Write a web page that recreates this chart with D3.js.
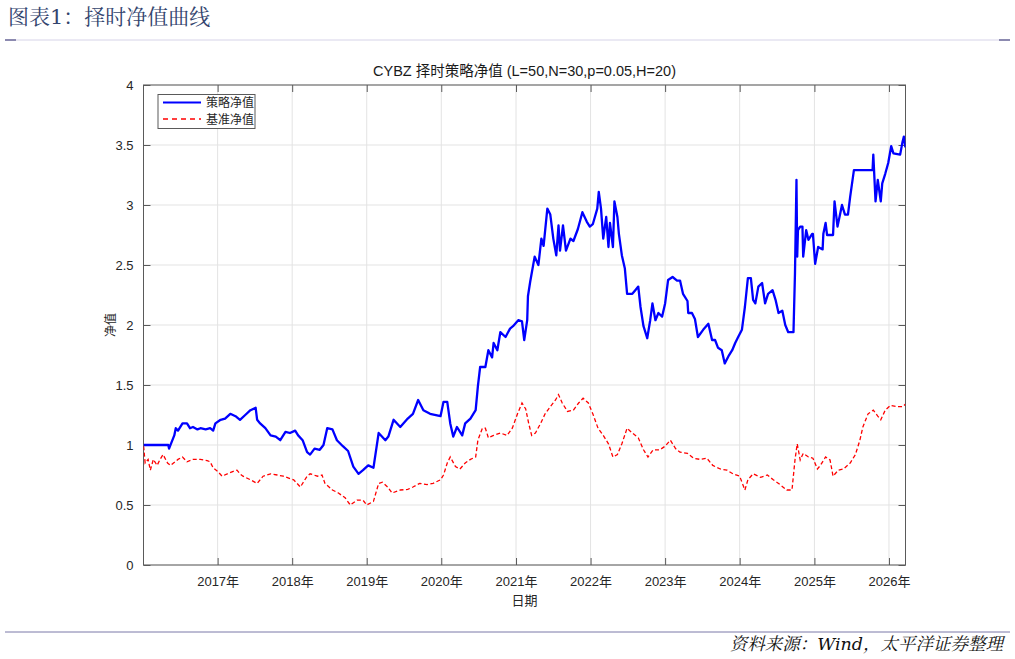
<!DOCTYPE html>
<html>
<head>
<meta charset="utf-8">
<script src="https://cdn.jsdelivr.net/npm/d3@7"></script>
<style>
  body { margin: 0; background: #fff; }
  svg { display: block; }
  .tick text { font-family: "Liberation Sans", Arial, "Noto Sans CJK SC", sans-serif; font-size: 13px; fill: #262626; }
</style>
</head>
<body>
<svg id="chart"></svg>
<script>
// strategy NAV (decimal year, value)
var stratT = [2016.01,2016.34,2016.35,2016.42,2016.44,2016.47,2016.53,2016.59,2016.63,2016.67,
  2016.73,2016.77,2016.84,2016.90,2016.94,2016.97,2017.04,2017.10,2017.17,2017.24,
  2017.30,2017.37,2017.44,2017.51,2017.53,2017.57,2017.64,2017.71,2017.78,2017.84,
  2017.91,2017.97,2018.04,2018.08,2018.14,2018.20,2018.24,2018.30,2018.37,2018.42,
  2018.47,2018.54,2018.60,2018.68,2018.75,2018.82,2018.89,2018.95,
  2019.02,2019.09,2019.16,2019.25,2019.29,2019.36,2019.45,2019.55,2019.62,2019.69,2019.76,2019.85,2019.99,
  2020.03,2020.08,2020.12,2020.16,2020.21,2020.28,2020.32,2020.39,2020.46,2020.49,2020.52,2020.59,2020.63,2020.68,2020.70,2020.75,2020.79,2020.86,2020.92,2020.96,
  2021.03,2021.08,2021.11,2021.15,2021.16,
  2021.19,2021.25,2021.30,2021.34,2021.37,2021.42,2021.46,2021.50,2021.54,2021.57,2021.59,
  2021.63,2021.67,2021.73,2021.77,2021.83,2021.89,2021.95,2021.99,2022.03,2022.09,
  2022.11,2022.14,2022.17,2022.21,2022.24,2022.26,2022.30,2022.32,2022.36,2022.38,2022.42,2022.46,
  2022.49,2022.56,2022.60,2022.64,2022.67,2022.71,2022.76,2022.80,2022.83,2022.87,2022.91,2022.96,
  2023.00,2023.04,2023.10,2023.16,2023.20,2023.24,2023.30,2023.31,2023.36,2023.40,2023.44,2023.51,2023.58,2023.63,2023.67,2023.71,2023.76,2023.80,2023.85,2023.90,2023.94,2023.98,
  2024.03,2024.07,2024.11,2024.15,2024.18,2024.21,2024.25,2024.30,2024.34,2024.38,2024.44,2024.48,2024.52,2024.57,2024.61,2024.65,2024.72,2024.74,2024.76,2024.77,2024.78,2024.81,2024.84,2024.85,2024.89,2024.92,2024.97,2024.98,
  2025.01,2025.05,2025.11,2025.12,2025.15,2025.17,2025.25,2025.27,2025.31,2025.37,2025.41,2025.45,2025.48,2025.53,2025.78,2025.79,2025.82,2025.85,2025.89,2025.91,2025.95,2025.99,
  2026.03,2026.06,2026.15,2026.18,2026.20,2026.22];
var stratV = [1.00,1.00,0.97,1.08,1.14,1.12,1.18,1.18,1.14,1.15,
  1.13,1.14,1.13,1.14,1.12,1.18,1.21,1.22,1.26,1.24,
  1.21,1.25,1.29,1.31,1.21,1.18,1.14,1.08,1.07,1.04,
  1.11,1.10,1.12,1.08,1.04,0.94,0.92,0.97,0.96,1.00,
  1.14,1.13,1.04,0.99,0.95,0.82,0.76,0.79,
  0.83,0.81,1.10,1.04,1.07,1.21,1.15,1.22,1.26,1.375,1.29,1.26,1.24,
  1.36,1.36,1.18,1.07,1.15,1.08,1.18,1.22,1.29,1.49,1.65,1.65,1.79,1.73,1.85,1.79,1.94,1.90,1.97,1.99,
  2.04,2.03,1.875,2.04,2.24,
  2.36,2.57,2.50,2.72,2.66,2.97,2.92,2.72,2.58,2.83,2.62,
  2.83,2.62,2.72,2.70,2.80,2.94,2.86,2.82,2.84,2.97,
  3.11,2.97,2.72,2.90,2.65,2.85,2.65,3.03,2.90,2.76,2.58,2.47,
  2.26,2.26,2.29,2.32,2.15,1.99,1.89,2.04,2.18,2.04,2.10,2.07,
  2.18,2.375,2.40,2.37,2.37,2.26,2.20,2.10,2.10,2.05,1.90,1.96,2.01,1.875,1.875,1.81,1.79,1.68,1.74,1.79,1.85,1.90,
  1.96,2.15,2.39,2.39,2.21,2.18,2.32,2.35,2.18,2.26,2.29,2.21,2.10,2.12,2.00,1.94,1.94,2.43,3.21,2.57,2.79,2.82,2.82,2.57,2.79,2.71,2.76,2.76,
  2.51,2.65,2.63,2.76,2.85,2.75,2.75,3.03,2.82,3.00,2.92,2.92,3.07,3.29,3.29,3.42,3.03,3.21,3.03,3.18,3.26,3.35,
  3.49,3.43,3.42,3.52,3.57,3.48];

// benchmark NAV
var benchT = [2016.01,2016.03,2016.07,2016.10,2016.14,2016.19,2016.23,2016.27,2016.33,2016.37,2016.41,2016.47,2016.53,2016.59,2016.67,2016.77,2016.86,2016.90,2016.94,
  2017.00,2017.06,2017.13,2017.21,2017.26,2017.30,2017.34,2017.44,2017.53,2017.61,2017.71,2017.80,2017.88,
  2018.02,2018.11,2018.20,2018.24,2018.34,2018.40,2018.44,2018.54,2018.62,2018.71,2018.78,2018.87,2018.95,
  2019.00,2019.09,2019.16,2019.21,2019.28,2019.34,2019.45,2019.55,2019.62,2019.71,2019.81,2019.89,2019.99,
  2020.03,2020.08,2020.12,2020.19,2020.25,2020.32,2020.39,2020.46,2020.49,2020.55,2020.59,2020.63,2020.70,2020.79,2020.88,2020.95,
  2021.02,2021.08,2021.13,2021.17,2021.21,2021.26,2021.33,2021.39,2021.46,2021.53,2021.57,2021.62,2021.69,2021.77,2021.84,2021.90,2021.97,
  2022.03,2022.10,2022.17,2022.24,2022.30,2022.36,2022.42,2022.49,2022.56,2022.64,2022.71,2022.77,2022.84,2022.93,
  2023.00,2023.07,2023.14,2023.20,2023.30,2023.38,2023.47,2023.56,2023.64,2023.74,2023.83,2023.91,
  2024.00,2024.07,2024.11,2024.18,2024.28,2024.37,2024.45,2024.54,2024.63,2024.70,2024.74,2024.77,2024.81,2024.85,2024.92,2024.98,
  2025.04,2025.08,2025.15,2025.21,2025.25,2025.32,2025.39,2025.48,2025.55,2025.61,2025.65,2025.72,2025.79,2025.85,2025.89,2025.95,
  2026.02,2026.11,2026.19,2026.22];
var benchV = [0.99,0.85,0.88,0.79,0.88,0.83,0.88,0.92,0.85,0.83,0.85,0.88,0.90,0.86,0.88,0.88,0.87,0.86,0.81,
  0.78,0.74,0.76,0.78,0.79,0.76,0.74,0.71,0.68,0.74,0.76,0.75,0.74,
  0.71,0.65,0.74,0.76,0.74,0.75,0.68,0.625,0.60,0.56,0.50,0.54,0.54,
  0.50,0.53,0.68,0.69,0.65,0.60,0.625,0.63,0.65,0.68,0.67,0.68,0.71,
  0.75,0.85,0.90,0.82,0.80,0.85,0.88,0.90,1.04,1.14,1.14,1.06,1.08,1.10,1.08,1.14,
  1.26,1.35,1.30,1.18,1.08,1.10,1.18,1.26,1.32,1.375,1.42,1.35,1.28,1.29,1.35,1.39,1.35,
  1.26,1.14,1.08,1.01,0.90,0.92,1.01,1.14,1.10,1.06,0.96,0.90,0.96,0.96,
  0.99,1.04,0.97,0.94,0.93,0.89,0.88,0.89,0.83,0.80,0.79,0.76,
  0.74,0.625,0.71,0.76,0.73,0.75,0.71,0.67,0.625,0.625,0.875,1.01,0.875,0.93,0.90,0.89,
  0.80,0.83,0.90,0.875,0.74,0.79,0.80,0.85,0.92,1.04,1.15,1.26,1.29,1.24,1.21,1.29,
  1.33,1.32,1.32,1.34];

var yTicks = [0, 0.5, 1, 1.5, 2, 2.5, 3, 3.5, 4];
var seriesNames = ["策略净值", "基准净值"];

var W = 1015, H = 659;
var margin = {top: 85, right: 109.5, bottom: 94, left: 143.5};
var width = W - margin.left - margin.right,
    height = H - margin.top - margin.bottom;

function toDate(t) {
    var y = Math.floor(t);
    var a = new Date(y, 0, 1), b = new Date(y + 1, 0, 1);
    return new Date(a.getTime() + (t - y) * (b - a));
}

var svg = d3.select("#chart").attr("width", W).attr("height", H);

// page header / footer
svg.append("text")
    .attr("x", 8).attr("y", 24)
    .style("font-family", "'DejaVu Serif', 'Noto Serif CJK SC', serif")
    .style("font-size", "21px")
    .style("fill", "#33446e")
    .text("图表1：择时净值曲线");
svg.append("line").attr("x1", 5).attr("x2", 1010).attr("y1", 40).attr("y2", 40)
    .style("stroke", "#d6d3e8").style("stroke-width", 1);
svg.append("line").attr("x1", 5).attr("x2", 16).attr("y1", 40).attr("y2", 40)
    .style("stroke", "#6d6a9a").style("stroke-width", 1.5);
svg.append("line").attr("x1", 999).attr("x2", 1010).attr("y1", 40).attr("y2", 40)
    .style("stroke", "#6d6a9a").style("stroke-width", 1.5);
svg.append("line").attr("x1", 5).attr("x2", 1010).attr("y1", 632).attr("y2", 632)
    .style("stroke", "#7b78a8").style("stroke-width", 1);
svg.append("text")
    .attr("x", 1003).attr("y", 650)
    .attr("text-anchor", "end")
    .style("font-family", "'DejaVu Serif', 'Noto Serif CJK SC', serif")
    .style("font-style", "italic")
    .style("font-size", "17.5px")
    .style("fill", "#111")
    .text("资料来源：Wind，太平洋证券整理");

var g = svg.append("g")
    .attr("transform", "translate(" + margin.left + "," + margin.top + ")");

var x = d3.scaleTime()
    .domain([new Date(2016, 0, 4), new Date(2026, 2, 23)])
    .range([0, width]);
var y = d3.scaleLinear().domain([0, 4]).range([height, 0]);

var years = x.ticks(d3.timeYear.every(1));

// grid
g.append("g").selectAll("line").data(years).enter().append("line")
    .attr("x1", function(d) { return x(d); }).attr("x2", function(d) { return x(d); })
    .attr("y1", 0).attr("y2", height)
    .style("stroke", "#e3e3e3");
g.append("g").selectAll("line").data(yTicks).enter().append("line")
    .attr("x1", 0).attr("x2", width)
    .attr("y1", function(d) { return y(d); }).attr("y2", function(d) { return y(d); })
    .style("stroke", "#e3e3e3");

// axes, MATLAB style ticks pointing inwards
g.append("g")
    .attr("transform", "translate(0," + height + ")")
    .call(d3.axisBottom(x).tickValues(years).tickFormat(d3.timeFormat("%Y年")).tickSizeInner(-7).tickSizeOuter(0).tickPadding(12));
g.append("g")
    .call(d3.axisLeft(y).tickValues(yTicks).tickFormat(d3.format("")).tickSizeInner(-7).tickSizeOuter(0).tickPadding(10));
g.append("g")
    .call(d3.axisTop(x).tickValues(years).tickFormat("").tickSizeInner(-7).tickSizeOuter(0));
g.append("g")
    .attr("transform", "translate(" + width + ",0)")
    .call(d3.axisRight(y).tickValues(yTicks).tickFormat("").tickSizeInner(-7).tickSizeOuter(0));
g.selectAll(".domain").remove();
g.selectAll(".tick line").style("stroke", "#5a5a5a");
g.append("rect")
    .attr("width", width).attr("height", height)
    .style("fill", "none").style("stroke", "#5a5a5a").style("stroke-width", 1);

g.append("clipPath").attr("id", "clip")
    .append("rect").attr("width", width).attr("height", height);

var line = d3.line()
    .x(function(d) { return x(toDate(d[0])); })
    .y(function(d) { return y(d[1]); });

var bench = d3.zip(benchT, benchV);
var strat = d3.zip(stratT, stratV);

g.append("path")
    .datum(bench)
    .attr("clip-path", "url(#clip)")
    .attr("d", line)
    .style("fill", "none").style("stroke", "#ff0000")
    .style("stroke-width", 1.3).style("stroke-dasharray", "4,2.5");
g.append("path")
    .datum(strat)
    .attr("clip-path", "url(#clip)")
    .attr("d", line)
    .style("fill", "none").style("stroke", "#0000ff")
    .style("stroke-width", 2.3).style("stroke-linejoin", "round");

// titles
g.append("text")
    .attr("x", width / 2).attr("y", -9)
    .attr("text-anchor", "middle")
    .style("font-family", "'Liberation Sans', Arial, 'Noto Sans CJK SC', sans-serif")
    .style("font-size", "14.5px").style("fill", "#1a1a1a")
    .text("CYBZ 择时策略净值 (L=50,N=30,p=0.05,H=20)");
g.append("text")
    .attr("x", width / 2).attr("y", height + 40)
    .attr("text-anchor", "middle")
    .style("font-family", "'Noto Sans CJK SC', sans-serif")
    .style("font-size", "13px").style("fill", "#262626")
    .text("日期");
g.append("text")
    .attr("transform", "rotate(-90)")
    .attr("x", -height / 2).attr("y", -29)
    .attr("text-anchor", "middle")
    .style("font-family", "'Noto Sans CJK SC', sans-serif")
    .style("font-size", "12px").style("fill", "#262626")
    .text("净值");

// legend
var lg = g.append("g").attr("transform", "translate(14.5,9.5)");
lg.append("rect").attr("width", 97).attr("height", 34)
    .style("fill", "#fff").style("stroke", "#5a5a5a").style("stroke-width", 1);
var leg = lg.selectAll(".item").data(seriesNames).enter().append("g")
    .attr("transform", function(d, i) { return "translate(0," + (8 + i * 16.5) + ")"; });
leg.append("line")
    .attr("x1", 5).attr("x2", 43).attr("y1", 0).attr("y2", 0)
    .style("stroke", function(d, i) { return i === 0 ? "#0000ff" : "#ff0000"; })
    .style("stroke-width", function(d, i) { return i === 0 ? 2 : 1.3; })
    .style("stroke-dasharray", function(d, i) { return i === 0 ? null : "5,4"; });
leg.append("text")
    .attr("x", 48).attr("y", 4.5)
    .style("font-family", "'Noto Sans CJK SC', serif")
    .style("font-size", "12px").style("fill", "#262626")
    .text(function(d) { return d; });
</script>
</body>
</html>
